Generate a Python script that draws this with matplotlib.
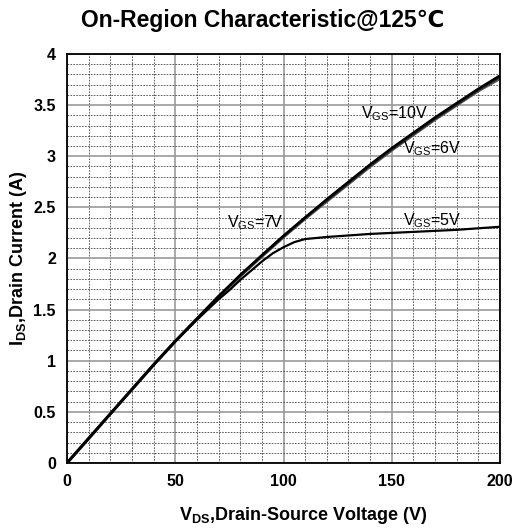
import matplotlib
matplotlib.use("Agg")
import matplotlib.pyplot as plt
from matplotlib.ticker import MultipleLocator

plt.rcParams['font.family'] = ['Liberation Sans', 'DejaVu Sans']
plt.rcParams['mathtext.fontset'] = 'custom'
plt.rcParams['mathtext.rm'] = 'Liberation Sans'
plt.rcParams['mathtext.bf'] = 'Liberation Sans:bold'
plt.rcParams['mathtext.it'] = 'Liberation Sans:italic'

# curve data (V_DS in V, I_DS in A)
vds_hi = [0, 10, 20, 30, 40, 50, 60, 70, 80, 90, 100,
          110, 120, 130, 140, 150, 160, 170, 180, 190, 200]
id_10v = [0, 0.24, 0.48, 0.72, 0.96, 1.19, 1.41, 1.63, 1.84, 2.03, 2.22,
          2.40, 2.58, 2.75, 2.92, 3.08, 3.23, 3.38, 3.52, 3.66, 3.79]
id_7v = [0, 0.24, 0.48, 0.72, 0.96, 1.19, 1.41, 1.63, 1.83, 2.03, 2.22,
         2.40, 2.57, 2.74, 2.91, 3.07, 3.22, 3.37, 3.51, 3.65, 3.78]
id_6v = [0, 0.24, 0.48, 0.72, 0.96, 1.19, 1.41, 1.62, 1.83, 2.02, 2.21,
         2.39, 2.56, 2.73, 2.90, 3.06, 3.21, 3.36, 3.50, 3.64, 3.76]

vds_5v = [0, 10, 20, 30, 40, 50, 60, 65, 70, 75, 80, 85, 90, 95, 100,
          105, 110, 115, 120, 140, 160, 180, 200]
id_5v = [0, 0.24, 0.48, 0.72, 0.96, 1.19, 1.40, 1.50, 1.60, 1.69, 1.79, 1.88, 1.97, 2.05, 2.11,
         2.16, 2.19, 2.20, 2.21, 2.24, 2.26, 2.28, 2.31]

labels = ["$\\mathrm{V_{GS}}$=10V", "$\\mathrm{V_{GS}}$=6V",
          "$\\mathrm{V_{GS}}$=7V", "$\\mathrm{V_{GS}}$=5V"]
label_pos = [(136, 3.42), (155, 3.07), (74, 2.35), (155, 2.37)]

fig = plt.figure(figsize=(5.13, 5.29), dpi=100)
ax = fig.add_axes([0.1306, 0.1248, 0.8441, 0.7732])

ax.plot(vds_hi, id_6v, color="#555555", lw=2.2)
ax.plot(vds_hi, id_7v, color="#222222", lw=2.0)
ax.plot(vds_hi, id_10v, color="black", lw=1.7)
ax.plot(vds_5v, id_5v, color="black", lw=1.6)

for txt, (x, y) in zip(labels, label_pos):
    ax.text(x, y, txt, fontsize=11.5, ha="left", va="center")

ax.set_xlim(0, 200)
ax.set_ylim(0, 4)
ax.xaxis.set_minor_locator(MultipleLocator(10))
ax.yaxis.set_minor_locator(MultipleLocator(0.1))
ax.set_yticks([0, 0.5, 1, 1.5, 2, 2.5, 3, 3.5, 4])
ax.set_yticklabels(["0", "0.5", "1", "1.5", "2", "2.5", "3", "3.5", "4"], fontweight="bold")
ax.set_xticks([0, 50, 100, 150, 200])
ax.set_xticklabels(["0", "50", "100", "150", "200"], fontweight="bold")
ax.grid(True, which="major", color="#999999", lw=1.2, ls="-")
ax.grid(True, which="minor", color="#444444", lw=0.6, ls=(0, (2, 1.5)))
ax.set_axisbelow(True)
ax.tick_params(which="both", length=0, labelsize=11.5, pad=8)
for s in ax.spines.values():
    s.set_linewidth(1.3)
    s.set_color("black")

fig.text(0.59, 1 - 516 / 529, "$\\mathbf{V_{DS}}$,Drain-Source Voltage (V)",
         fontsize=13, fontweight="bold", ha="center", va="center")
fig.text(19 / 513, 1 - 258 / 529, "$\\mathbf{I_{DS}}$,Drain Current (A)",
         fontsize=13, fontweight="bold", ha="center", va="center", rotation=90)

fig.text(0.513, 0.962, "On-Region Characteristic@125\u2103", fontsize=16.5,
         fontweight="bold", ha="center", va="center")

fig.savefig("out.png", dpi=100)
